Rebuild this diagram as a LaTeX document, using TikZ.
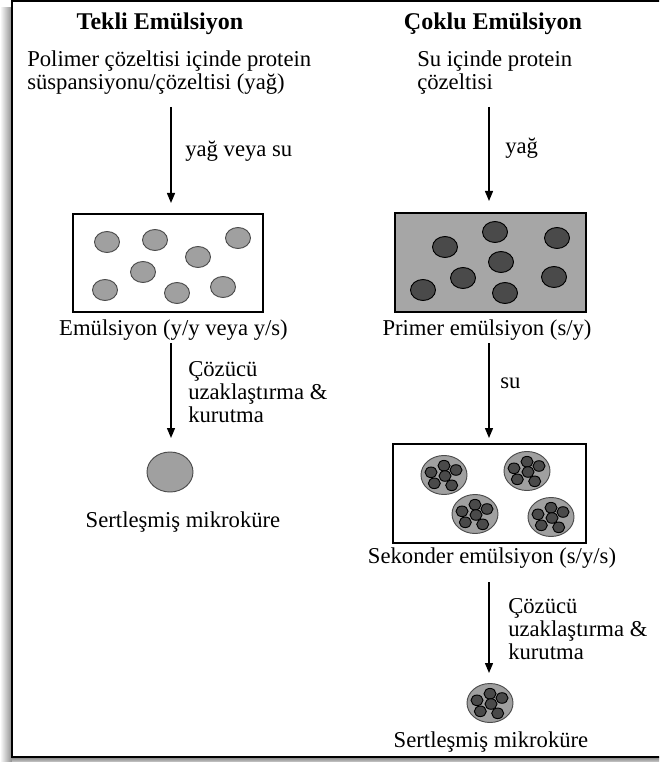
\documentclass[tikz,border=0pt]{standalone}
\usepackage{fontspec}
\setmainfont{Liberation Serif}
\usetikzlibrary{arrows.meta,fit}
\definecolor{lgray}{HTML}{A0A0A0}
\definecolor{dgray}{HTML}{4A4A4A}
\definecolor{boxgray}{HTML}{A6A6A6}
\tikzset{
 txt/.style={inner sep=0pt, font=\fontsize{17}{20}\selectfont},
 ttl/.style={inner sep=0pt, font=\fontsize{18}{20}\selectfont\bfseries},
 arr/.style={line width=1pt, -{Triangle[length=7.5pt,width=6pt]}},
 ebox/.style={draw, line width=1.2pt, inner sep=0pt},
 lgdrop/.style={fill=lgray, draw=black!70, line width=0.7pt},
 dkdrop/.style={fill=dgray, draw=black, line width=0.7pt},
}
\newcommand\multidrop[2]{%
 \draw[lgdrop] (#1,#2) ellipse [x radius=23, y radius=19.5];
 \foreach \dx/\dy in {-13/-2.7, 0/-9.3, 12/-5, 1/1, -9.7/8.3, 7.7/10.3}
   \draw[dkdrop] (#1+\dx,#2+\dy) ellipse [x radius=6, y radius=5.3];
}
\begin{document}
\begin{tikzpicture}[x=0.75pt,y=-0.75pt]
\useasboundingbox (0,0) rectangle (659,762);
\clip (0,0) rectangle (659,762);
% shadow and frame
\shade[left color=white, right color=black!45] (0,8) rectangle (12,762);
\shade[top color=black!50, bottom color=black!20] (12,757) rectangle (659,762);
\draw[line width=1.5pt, fill=white] (12,1) rectangle (670,757);

% titles
\node[ttl, anchor=base] (t1) at (160,30) {Tekli Emülsiyon};
\node[ttl, anchor=base] (t2) at (493,30) {Çoklu Emülsiyon};

% left column
\node[txt, anchor=base west] (l1a) at (27,67) {Polimer çözeltisi içinde protein};
\node[txt, anchor=base west] (l1b) at (27,90) {süspansiyonu/çözeltisi (yağ)};
\coordinate (la1s) at (171,107);
\coordinate (la1e) at (171,203);
\draw[arr] (la1s) -- (la1e);
\node[txt, anchor=base west] (lyv) at (185,157) {yağ veya su};

\node[ebox, fit={(73,214) (263,312)}] (box1) {};
\foreach \x/\y in {107/242, 155/240, 238/238, 198/257, 143/272, 105/290, 177/293, 223/287}
  \draw[lgdrop] (\x,\y) ellipse [x radius=12.5, y radius=10.5];
\node[txt, anchor=base] (l2) at (173.5,335) {Emülsiyon (y/y veya y/s)};

\coordinate (la2s) at (171,343);
\coordinate (la2e) at (171,438);
\draw[arr] (la2s) -- (la2e);
\node[txt, anchor=base west] (lc1) at (188,376) {Çözücü};
\node[txt, anchor=base west] (lc2) at (188,399) {uzaklaştırma \&};
\node[txt, anchor=base west] (lc3) at (188,422) {kurutma};

\draw[lgdrop] (170,472) ellipse [x radius=23, y radius=20];
\node[txt, anchor=base] (l3) at (183,527) {Sertleşmiş mikroküre};

% right column
\node[txt, anchor=base west] (r1a) at (417,67) {Su içinde protein};
\node[txt, anchor=base west] (r1b) at (417,90) {çözeltisi};
\coordinate (ra1s) at (489,107);
\coordinate (ra1e) at (489,201);
\draw[arr] (ra1s) -- (ra1e);
\node[txt, anchor=base west] (ryag) at (505,154) {yağ};

\node[ebox, fill=boxgray, fit={(395,213) (586,312)}] (box2) {};
\foreach \x/\y in {445/247, 495/232, 557/238, 501/262, 463/278, 423/290, 505/293, 554/277}
  \draw[dkdrop] (\x,\y) ellipse [x radius=12.5, y radius=10.5];
\node[txt, anchor=base] (r2) at (487,335) {Primer emülsiyon (s/y)};

\coordinate (ra2s) at (489,343);
\coordinate (ra2e) at (489,438);
\draw[arr] (ra2s) -- (ra2e);
\node[txt, anchor=base west] (rsu) at (500,388) {su};

\node[ebox, fit={(393,444) (586,543)}] (box3) {};
\multidrop{444}{475}
\multidrop{527}{471}
\multidrop{475}{514}
\multidrop{551}{517}
\node[txt, anchor=base] (r3) at (492,563) {Sekonder emülsiyon (s/y/s)};

\coordinate (ra3s) at (489,582);
\coordinate (ra3e) at (489,673);
\draw[arr] (ra3s) -- (ra3e);
\node[txt, anchor=base west] (rc1) at (508,613) {Çözücü};
\node[txt, anchor=base west] (rc2) at (508,636) {uzaklaştırma \&};
\node[txt, anchor=base west] (rc3) at (508,659) {kurutma};

\multidrop{490}{703}
\node[txt, anchor=base] (r4) at (491,747) {Sertleşmiş mikroküre};
\end{tikzpicture}
\end{document}
